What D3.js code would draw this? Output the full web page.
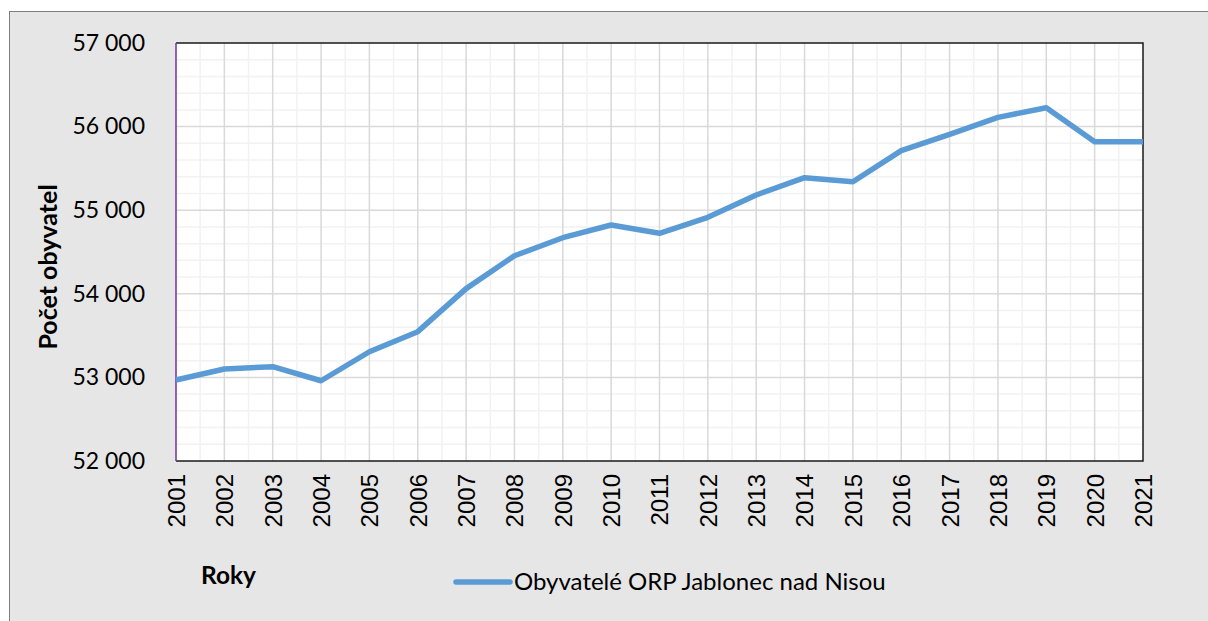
<!DOCTYPE html>
<meta charset="utf-8">
<script src="https://d3js.org/d3.v7.min.js"></script>
<style>
  body { margin: 0; background: #fff; }
</style>
<div id="my_dataviz"></div>
<script>

// Data
var years = ["2001","2002","2003","2004","2005","2006","2007","2008","2009","2010","2011",
             "2012","2013","2014","2015","2016","2017","2018","2019","2020","2021"];
var population = [52969, 53100, 53128, 52960, 53307, 53547, 54062, 54455, 54671, 54823, 54724,
                  54915, 55182, 55389, 55341, 55712, 55908, 56110, 56226, 55819, 55819];
var yTicks = [52000, 53000, 54000, 55000, 56000, 57000];
var seriesName = "Obyvatelé ORP Jablonec nad Nisou";

var W = 1208, H = 621;
var plot = {left: 176, right: 1143, top: 43, bottom: 461};

var svg = d3.select("#my_dataviz")
    .append("svg")
    .attr("width", W)
    .attr("height", H);

// chart area background
svg.append("rect")
    .attr("x", 9.5).attr("y", 11.5)
    .attr("width", W).attr("height", H)
    .style("fill", "#e6e6e6")
    .style("stroke", "#7f7f7f")
    .style("stroke-width", 1);

// plot area
svg.append("rect")
    .attr("x", plot.left).attr("y", plot.top)
    .attr("width", plot.right - plot.left).attr("height", plot.bottom - plot.top)
    .style("fill", "#fff");

var x = d3.scalePoint().domain(years).range([plot.left, plot.right]);
var y = d3.scaleLinear().domain([52000, 57000]).range([plot.bottom, plot.top]);

var locale = d3.formatLocale({decimal: ",", thousands: " ", grouping: [3], currency: ["", ""]});
var fmt = locale.format(",d");

// minor gridlines
var grid = svg.append("g");
grid.selectAll(".hmin")
    .data(d3.range(52200, 57000, 200).filter(function(v) { return v % 1000 !== 0; }))
    .enter().append("line")
    .attr("x1", plot.left).attr("x2", plot.right)
    .attr("y1", function(d) { return y(d); }).attr("y2", function(d) { return y(d); })
    .style("stroke", "#f2f2f2").style("stroke-width", 1.5);
grid.selectAll(".vmin")
    .data(years.slice(0, -1))
    .enter().append("line")
    .attr("x1", function(d) { return x(d) + x.step() / 2; })
    .attr("x2", function(d) { return x(d) + x.step() / 2; })
    .attr("y1", plot.top).attr("y2", plot.bottom)
    .style("stroke", "#f2f2f2").style("stroke-width", 1.5);

// major gridlines
grid.selectAll(".hmaj")
    .data(yTicks.slice(1, -1))
    .enter().append("line")
    .attr("x1", plot.left).attr("x2", plot.right)
    .attr("y1", function(d) { return y(d); }).attr("y2", function(d) { return y(d); })
    .style("stroke", "#d9d9d9").style("stroke-width", 1.5);
grid.selectAll(".vmaj")
    .data(years.slice(1, -1))
    .enter().append("line")
    .attr("x1", function(d) { return x(d); }).attr("x2", function(d) { return x(d); })
    .attr("y1", plot.top).attr("y2", plot.bottom)
    .style("stroke", "#d9d9d9").style("stroke-width", 1.5);

// plot border: black top/right/bottom, purple left
svg.append("path")
    .attr("d", "M" + plot.left + "," + plot.top + "H" + plot.right + "V" + plot.bottom + "H" + plot.left)
    .style("fill", "none").style("stroke", "#1a1a1a").style("stroke-width", 1.5);
svg.append("line")
    .attr("x1", plot.left).attr("x2", plot.left)
    .attr("y1", plot.top).attr("y2", plot.bottom)
    .style("stroke", "#7030a0").style("stroke-width", 1.5);

// Y axis
svg.append("g")
    .attr("transform", "translate(" + plot.left + ",0)")
    .call(d3.axisLeft(y).tickValues(yTicks).tickSize(0).tickPadding(31).tickFormat(fmt))
    .call(function(g) { g.select(".domain").remove(); })
    .selectAll("text")
    .style("font-family", "Lato")
    .style("font-size", "23px")
    .style("fill", "#000");

// X axis
svg.append("g")
    .attr("transform", "translate(0," + plot.bottom + ")")
    .call(d3.axisBottom(x).tickSize(0).tickPadding(0))
    .call(function(g) { g.select(".domain").remove(); })
    .selectAll("text")
    .attr("transform", "rotate(-90)")
    .attr("x", -13)
    .attr("y", 0)
    .attr("dy", "0.35em")
    .style("text-anchor", "end")
    .style("font-family", "Liberation Sans")
    .style("font-size", "24px")
    .style("fill", "#000");

// the line
var line = d3.line()
    .x(function(d, i) { return x(years[i]); })
    .y(function(d) { return y(d); });
svg.append("path")
    .datum(population)
    .attr("d", line)
    .style("fill", "none")
    .style("stroke", "#5b9bd5")
    .style("stroke-width", 5.5)
    .style("stroke-linejoin", "round");

// axis titles
svg.append("text")
    .attr("transform", "translate(57,267) rotate(-90)")
    .attr("text-anchor", "middle")
    .style("font-family", "Lato")
    .style("font-weight", "bold")
    .style("font-size", "25px")
    .text("Počet obyvatel");

svg.append("text")
    .attr("x", 201).attr("y", 584)
    .style("font-family", "Lato")
    .style("font-weight", "bold")
    .style("font-size", "24.5px")
    .text("Roky");

// legend
svg.append("line")
    .attr("x1", 456).attr("x2", 510)
    .attr("y1", 582).attr("y2", 582)
    .style("stroke", "#5b9bd5")
    .style("stroke-width", 5.5)
    .style("stroke-linecap", "round");
svg.append("text")
    .attr("x", 514).attr("y", 590)
    .style("font-family", "Lato")
    .style("font-size", "24px")
    .text(seriesName);

</script>
